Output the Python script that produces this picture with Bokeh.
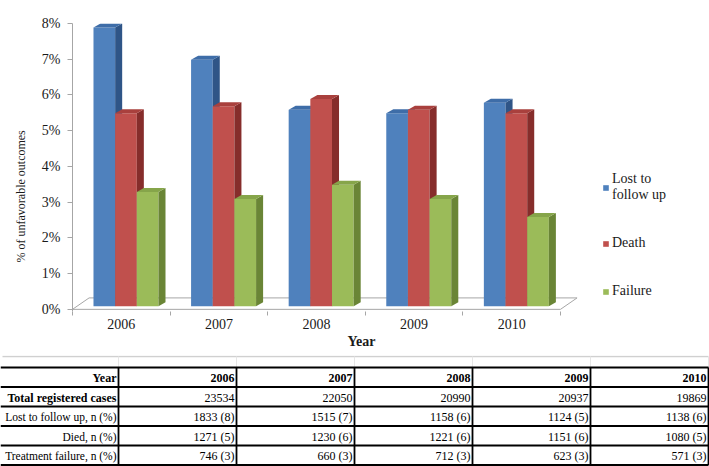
from bokeh.plotting import figure
from bokeh.models import FixedTicker, Legend, LegendItem, Range1d, Title
from bokeh.layouts import column
from bokeh.embed import file_html
from bokeh.resources import INLINE
from bokeh.core.properties import value

# ---------------- data ----------------
years = ["2006", "2007", "2008", "2009", "2010"]
lost_pct = [7.8, 6.9, 5.5, 5.4, 5.7]
death_pct = [5.4, 5.6, 5.8, 5.5, 5.4]
failure_pct = [3.2, 3.0, 3.4, 3.0, 2.5]
series_labels = ["Lost to\nfollow up", "Death", "Failure"]
y_ticks = [0, 1, 2, 3, 4, 5, 6, 7, 8]
y_tick_labels = ["0%", "1%", "2%", "3%", "4%", "5%", "6%", "7%", "8%"]
y_title = "% of unfavorable  outcomes"
x_title = "Year"

row_labels = ["Total registered cases", "Lost to follow up, n (%)", "Died, n (%)", "Treatment failure, n (%)"]
total_cases = [23534, 22050, 20990, 20937, 19869]
lost_n = [1833, 1515, 1158, 1124, 1138]
lost_n_pct = [8, 7, 6, 5, 6]
died_n = [1271, 1230, 1221, 1151, 1080]
died_n_pct = [5, 6, 6, 6, 5]
fail_n = [746, 660, 712, 623, 571]
fail_n_pct = [3, 3, 3, 3, 3]

# ---------------- style ----------------
FONT = "Liberation Serif"
AXIS_GREY = "#A6A6A6"
TEXT = "#1a1a1a"
front_colors = ["#4F81BD", "#C0504D", "#9BBB59"]
side_colors = ["#2F5587", "#862D2B", "#6A8536"]
top_colors = ["#3E6DA8", "#A9403D", "#86A54A"]

bar_w = 0.222        # width of one bar (category units)
group_left = 0.215   # left of first bar inside a category
depth_dx, depth_dy = 0.072, 0.112   # 3D depth of each bar
base_dy = 0.085      # bars stand slightly back on the floor
floor_dx, floor_dy = 0.17, 0.32

W, H1, H2 = 709, 355, 111

p = figure(width=W, height=H1, x_range=Range1d(0, 6.527), y_range=Range1d(-0.06, 8),
           output_backend="svg", toolbar_location=None,
           min_border_left=72, min_border_right=0, min_border_top=23, min_border_bottom=44)
p.frame_align = False
p.xgrid.visible = False
p.ygrid.visible = False
p.outline_line_color = None
p.background_fill_color = "white"
p.border_fill_color = "white"

n = len(years)
# floor
p.patch(x=[0, n, n + floor_dx, floor_dx], y=[0, 0, floor_dy, floor_dy],
        fill_color=None, line_color=AXIS_GREY, line_width=1)

series = [lost_pct, death_pct, failure_pct]
legend_items = []
for j, vals in enumerate(series):
    lefts = [i + group_left + j * bar_w for i in range(n)]
    rights = [l + bar_w for l in lefts]
    tops = [v + base_dy for v in vals]
    fr = p.quad(left=lefts, right=rights, bottom=base_dy, top=tops,
                fill_color=front_colors[j], line_color=None)
    side_xs = [[r, r + depth_dx, r + depth_dx, r] for r in rights]
    side_ys = [[base_dy, base_dy + depth_dy, t + depth_dy, t] for t in tops]
    p.patches(xs=side_xs, ys=side_ys, fill_color=side_colors[j], line_color=None)
    top_xs = [[l, r, r + depth_dx, l + depth_dx] for l, r in zip(lefts, rights)]
    top_ys = [[t, t, t + depth_dy, t + depth_dy] for t in tops]
    p.patches(xs=top_xs, ys=top_ys, fill_color=top_colors[j], line_color=None)
    legend_items.append(LegendItem(label=series_labels[j], renderers=[fr]))

# y axis
ya = p.yaxis[0]
ya.ticker = FixedTicker(ticks=y_ticks, minor_ticks=[])
ya.major_label_overrides = {t: lab for t, lab in zip(y_ticks, y_tick_labels)}
ya.axis_line_color = AXIS_GREY
ya.major_tick_line_color = AXIS_GREY
ya.major_tick_in = 0
ya.major_tick_out = 5
ya.minor_tick_line_color = None
ya.major_label_standoff = 7
ya.major_label_text_font = FONT
ya.major_label_text_font_size = "14px"
ya.major_label_text_color = TEXT

# x axis
xa = p.xaxis[0]
centers = [i + 0.5 for i in range(n)]
xa.ticker = FixedTicker(ticks=centers, minor_ticks=list(range(n + 1)))
xa.major_label_overrides = {c: y for c, y in zip(centers, years)}
xa.axis_line_color = None
xa.major_tick_line_color = None
xa.major_tick_in = 0
xa.major_tick_out = 0
xa.minor_tick_in = 0
xa.minor_tick_out = 4
xa.minor_tick_line_color = AXIS_GREY
xa.major_label_standoff = 3
xa.major_label_text_font = FONT
xa.major_label_text_font_size = "14px"
xa.major_label_text_color = TEXT

p.add_layout(Title(text=x_title, align="left", offset=275, standoff=0,
                   text_font=FONT, text_font_size="14px", text_font_style="bold",
                   text_color=TEXT), "below")
p.add_layout(Title(text=y_title, align="left", offset=49, standoff=22,
                   text_font=FONT, text_font_size="12px", text_font_style="normal",
                   text_color=TEXT), "left")

legend = Legend(items=legend_items, location=(530, 12), padding=0, margin=0, spacing=32,
                glyph_width=7, glyph_height=7, label_standoff=3, label_height=14,
                label_text_font=FONT, label_text_font_size="14px", label_text_color=TEXT,
                label_text_line_height=1.0,
                border_line_color=None, background_fill_alpha=0)
p.add_layout(legend)

# ---------------- table ----------------
t = figure(width=W, height=H2, x_range=Range1d(0, W), y_range=Range1d(H2, 0),
           output_backend="svg", toolbar_location=None, min_border=0)
t.frame_align = False
t.axis.visible = False
t.grid.visible = False
t.outline_line_color = None

first_w = 118.0
right_edge = 708.0
col_w = (right_edge - first_w) / n
table_top = 12.0
row_h = 19.5
n_rows = 1 + len(row_labels)
col_edges = [first_w + k * col_w for k in range(n + 1)]
row_edges = [table_top + k * row_h for k in range(n_rows + 1)]

# chart box bottom edge and faint sheet gridlines above table
t.segment(x0=[2], y0=[1], x1=[right_edge], y1=[1], line_color="#D0D0D0", line_width=1.5)
t.segment(x0=col_edges, y0=[1] * len(col_edges), x1=col_edges, y1=[table_top] * len(col_edges),
          line_color="#E6E6E6", line_width=1)
# horizontal rules
t.segment(x0=[0] * len(row_edges), y0=row_edges, x1=[right_edge] * len(row_edges), y1=row_edges,
          line_color="black", line_width=2)
# vertical rules
t.segment(x0=col_edges, y0=[row_edges[0]] * len(col_edges), x1=col_edges,
          y1=[row_edges[-1]] * len(col_edges), line_color="black", line_width=1.8)

table_values = [
    [str(v) for v in total_cases],
    [f"{a} ({b})" for a, b in zip(lost_n, lost_n_pct)],
    [f"{a} ({b})" for a, b in zip(died_n, died_n_pct)],
    [f"{a} ({b})" for a, b in zip(fail_n, fail_n_pct)],
]
header = ["Year"] + years
hx = [first_w - 2] + [e - 2 for e in col_edges[1:]]
hy = [row_edges[0] + row_h / 2 + 1] * len(header)
t.text(x=hx, y=hy, text=header, text_align="right", text_baseline="middle",
       text_font=value(FONT), text_font_size="12px", text_font_style="bold", text_color="black")

lab_x = [first_w - 2] * len(row_labels)
lab_y = [row_edges[r + 1] + row_h / 2 + 1 for r in range(len(row_labels))]
t.text(x=lab_x[:1], y=lab_y[:1], text=row_labels[:1], text_align="right", text_baseline="middle",
       text_font=value(FONT), text_font_size="12px", text_font_style="bold", text_color="black")
t.text(x=lab_x[1:], y=lab_y[1:], text=row_labels[1:], text_align="right", text_baseline="middle",
       text_font=value(FONT), text_font_size="11.5px", text_color="black")

vx, vy, vt = [], [], []
for r, rowvals in enumerate(table_values):
    for c, s in enumerate(rowvals):
        vx.append(col_edges[c + 1] - 2)
        vy.append(row_edges[r + 1] + row_h / 2 + 1)
        vt.append(s)
t.text(x=vx, y=vy, text=vt, text_align="right", text_baseline="middle",
       text_font=value(FONT), text_font_size="12px", text_color="black")

layout = column(p, t, spacing=0)
open("out.html", "w").write(file_html(layout, INLINE))
